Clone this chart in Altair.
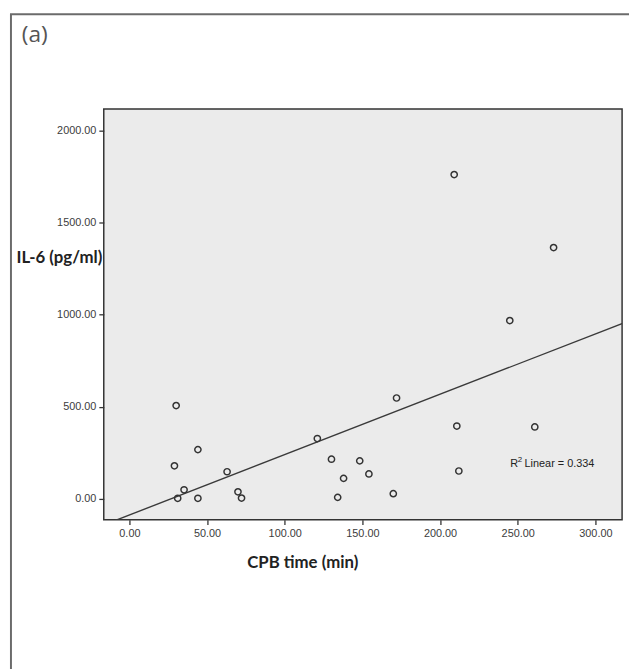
import altair as alt
import pandas as pd

# data
cpb_time = [30.1, 44.1, 29.0, 62.9, 35.2, 31.1, 44.1, 69.9, 72.2, 121.0, 130.1, 148.3,
            137.9, 154.2, 134.1, 169.9, 172.0, 210.8, 212.1, 261.0, 209.1, 273.1, 244.9]
il6 = [507, 268, 180, 148, 50, 4, 4, 39, 5, 328, 216, 207,
       112, 136, 9, 29, 548, 396, 152, 391, 1760, 1364, 968]

x_ticks = [0, 50, 100, 150, 200, 250, 300]
y_ticks = [0, 500, 1000, 1500, 2000]
x_domain = [-16.5, 317.2]
y_domain = [-112, 2116]

r2_label_x = [245.2]
r2_label_y = [189]
r2_value = "0.334"

df = pd.DataFrame({"cpb": cpb_time, "il6": il6})
lab = pd.DataFrame({"x": r2_label_x, "y": r2_label_y})
dummy = pd.DataFrame({"a": [0]})

xscale = alt.Scale(domain=x_domain, nice=False, zero=False)
yscale = alt.Scale(domain=y_domain, nice=False, zero=False)

title_font = "Lato"
label_font = "Liberation Sans"

xaxis = alt.Axis(values=x_ticks, format=".2f", grid=False, domain=False,
                 tickSize=5, tickColor="#333333", tickWidth=1.3,
                 labelFont=label_font, labelFontSize=11, labelColor="#3c3c3c", labelPadding=3,
                 title="CPB time (min)", titleFont=title_font, titleFontSize=17,
                 titleFontWeight="bold", titleColor="#222222",
                 titleX=201, titleY=43, titleBaseline="middle", titleAlign="center")
yaxis = alt.Axis(values=y_ticks, format=".2f", grid=False, domain=False,
                 tickSize=5, tickColor="#333333", tickWidth=1.3,
                 labelFont=label_font, labelFontSize=11, labelColor="#3c3c3c", labelPadding=3,
                 title="IL-6 (pg/ml)", titleFont=title_font, titleFontSize=17,
                 titleFontWeight="bold", titleColor="#222222", titleAngle=0,
                 titleX=-2, titleY=151, titleAlign="right", titleBaseline="middle")

points = alt.Chart(df).mark_point(shape="circle", filled=False, size=40,
                                  color="#333333", strokeWidth=1.5, opacity=1).encode(
    x=alt.X("cpb:Q", scale=xscale, axis=xaxis),
    y=alt.Y("il6:Q", scale=yscale, axis=yaxis),
)

fit = alt.Chart(df).transform_regression(
    "cpb", "il6", extent=[-20, 320]
).mark_line(clip=True, color="#3a3a3a", strokeWidth=1.4).encode(
    x=alt.X("cpb:Q", scale=xscale),
    y=alt.Y("il6:Q", scale=yscale),
)

r_txt = alt.Chart(lab).mark_text(align="left", baseline="middle", font=label_font,
                                 fontSize=11, color="#222222").encode(
    x=alt.X("x:Q", scale=xscale), y=alt.Y("y:Q", scale=yscale), text=alt.value("R"))
sup_txt = alt.Chart(lab).mark_text(align="left", baseline="middle", font=label_font,
                                   fontSize=8, color="#222222", dx=7.5, dy=-4).encode(
    x=alt.X("x:Q", scale=xscale), y=alt.Y("y:Q", scale=yscale), text=alt.value("2"))
lin_txt = alt.Chart(lab).mark_text(align="left", baseline="middle", font=label_font,
                                   fontSize=11, color="#222222", dx=14.5).encode(
    x=alt.X("x:Q", scale=xscale), y=alt.Y("y:Q", scale=yscale),
    text=alt.value("Linear = " + r2_value))

frame_v = alt.Chart(dummy).mark_rule(color="#6b6b6b", strokeWidth=2).encode(
    x=alt.value(-94), y=alt.value(-96), y2=alt.value(700))
frame_h = alt.Chart(dummy).mark_rule(color="#6b6b6b", strokeWidth=2).encode(
    x=alt.value(-95), x2=alt.value(700), y=alt.value(-96))
panel = alt.Chart(dummy).mark_text(align="left", baseline="middle", font="Open Sans",
                                   fontSize=23, color="#555555").encode(
    x=alt.value(-83), y=alt.value(-75), text=alt.value("(a)"))

chart = alt.layer(frame_v, frame_h, panel, fit, points, r_txt, sup_txt, lin_txt).properties(
    width=525, height=416,
    autosize=alt.AutoSizeParams(type="none"),
    padding={"left": 97, "top": 98, "right": 7, "bottom": 147},
    background="white",
).configure_view(fill="#ebebeb", stroke="#333333", strokeWidth=1.5)

chart.save("out.html", embed_options={"renderer": "svg", "actions": False})
